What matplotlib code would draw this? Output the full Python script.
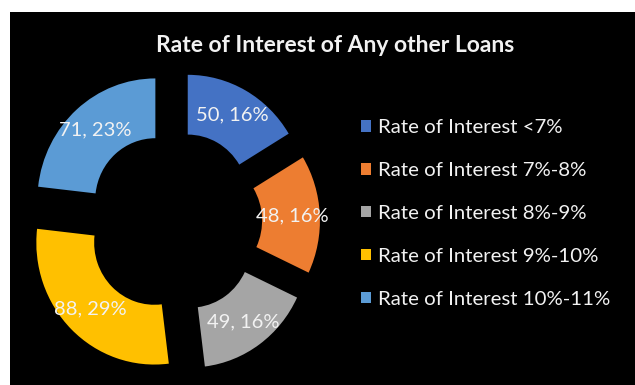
import matplotlib
matplotlib.use("Agg")
import matplotlib.pyplot as plt
from matplotlib.patches import Rectangle, Patch

plt.rcParams["font.family"] = ["Lato", "DejaVu Sans"]

categories = [
    "Rate of Interest <7%",
    "Rate of Interest 7%-8%",
    "Rate of Interest 8%-9%",
    "Rate of Interest 9%-10%",
    "Rate of Interest 10%-11%",
]
counts = [50, 48, 49, 88, 71]
colors = ["#4472C4", "#ED7D31", "#A5A5A5", "#FFC000", "#5B9BD5"]
title = "Rate of Interest of Any other Loans"

W, H = 635, 385
fig = plt.figure(figsize=(W / 100, H / 100), dpi=100, facecolor="white")

# black chart area, inset from the top-left corner
fig.patches.append(Rectangle((10 / W, 0), 1 - 10 / W, 1 - 12 / H,
                             transform=fig.transFigure, facecolor="black",
                             edgecolor="none", zorder=-5))

# donut centre at (174, 222) px from top-left; one radius = 118 px wide, 122 px tall
cx, cy = 174, H - 222
rx, ry = 118, 122
x0, x1 = -1.4, 1.4
y0, y1 = -1.3, 1.4
ax = fig.add_axes([(cx + x0 * rx) / W, (cy + y0 * ry) / H,
                   (x1 - x0) * rx / W, (y1 - y0) * ry / H])
ax.set_facecolor("none")

total = sum(counts)


def value_label(pct):
    return f"{round(pct * total / 100)}, {pct:.0f}%"


wedges, _, autotexts = ax.pie(
    counts, colors=colors, startangle=90, counterclock=False,
    explode=[0.237] * len(counts), autopct=value_label, pctdistance=0.77,
    wedgeprops=dict(width=0.49, edgecolor="none"),
    textprops=dict(color="#F2F2F2", fontsize=14.5),
)
ax.set_aspect("auto")
ax.set_xlim(x0, x1)
ax.set_ylim(y0, y1)
ax.axis("off")

fig.text(335 / W, 1 - 45 / H, title, color="#F2F2F2", fontsize=16.5,
         fontweight="bold", ha="center", va="center")

handles = [Patch(facecolor=c, edgecolor="none") for c in colors]
fig.legend(handles, categories, loc="upper left",
           bbox_to_anchor=(361 / W, 1 - 119 / H), frameon=False,
           fontsize=14.7, labelcolor="#F2F2F2", handlelength=0.5,
           handleheight=0.5, handletextpad=0.35, labelspacing=1.27,
           borderaxespad=0, borderpad=0)

fig.savefig("out.png", dpi=100, facecolor="white")
